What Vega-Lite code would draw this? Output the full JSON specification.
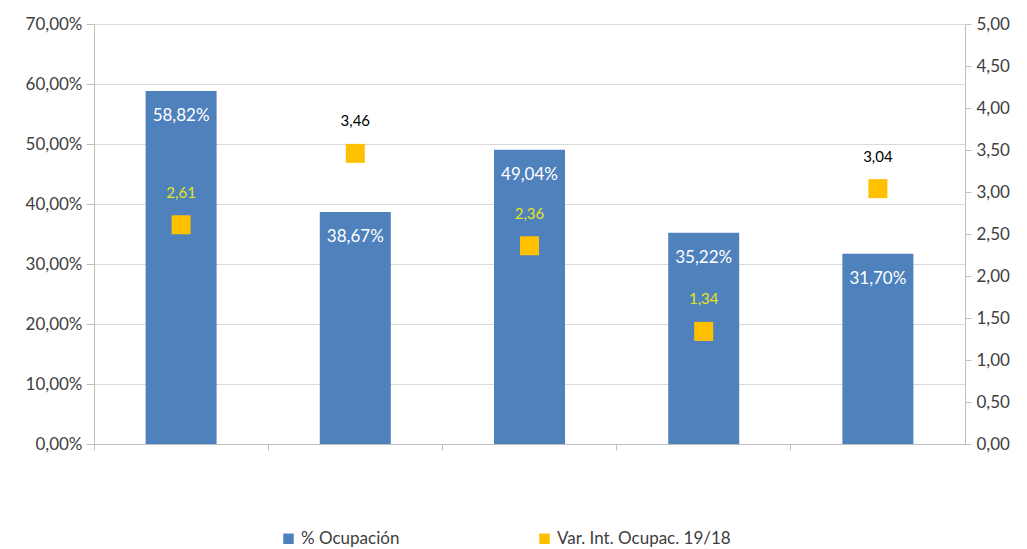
{
  "$schema": "https://vega.github.io/schema/vega-lite/v6.json",
  "width": 871,
  "height": 420,
  "autosize": {"type": "none"},
  "padding": {"left": 94, "top": 24, "right": 62, "bottom": 105},
  "config": {
    "font": "Lato",
    "view": {"stroke": null},
    "locale": {"number": {"decimal": ",", "thousands": ".", "grouping": [3], "currency": ["", " €"]}}
  },
  "data": {
    "values": [
      {"cat": "A", "ocup": 0.5882, "var": 2.61},
      {"cat": "B", "ocup": 0.3867, "var": 3.46},
      {"cat": "C", "ocup": 0.4904, "var": 2.36},
      {"cat": "D", "ocup": 0.3522, "var": 1.34},
      {"cat": "E", "ocup": 0.3170, "var": 3.04}
    ]
  },
  "layer": [
    {
      "layer": [
        {
          "mark": {"type": "bar", "width": 71, "color": "#4F81BD"},
          "encoding": {
            "x": {
              "field": "cat", "type": "nominal",
              "scale": {"paddingInner": 0, "paddingOuter": 0},
              "axis": {"labels": false, "title": null, "bandPosition": 0, "tickSize": 6, "domainColor": "#BFBFBF", "tickColor": "#BFBFBF", "grid": false}
            },
            "y": {
              "field": "ocup", "type": "quantitative",
              "scale": {"domain": [0, 0.7], "nice": false},
              "axis": {
                "values": [0, 0.1, 0.2, 0.3, 0.4, 0.5, 0.6, 0.7],
                "format": ".2%", "title": null, "grid": true, "gridColor": "#D9D9D9",
                "domainColor": "#BFBFBF", "tickColor": "#BFBFBF", "tickSize": 8,
                "labelFontSize": 17, "labelColor": "#404040", "labelPadding": 4
              }
            },
            "color": {
              "datum": "% Ocupación",
              "scale": {"domain": ["% Ocupación", "Var. Int. Ocupac. 19/18"], "range": ["#4F81BD", "#FFC000"]},
              "legend": {
                "title": null, "orient": "none", "legendX": 186, "legendY": 506,
                "direction": "horizontal", "symbolType": "square", "symbolSize": 110,
                "labelFontSize": 17, "labelColor": "#404040", "columnPadding": 136,
                "symbolStrokeWidth": 0, "labelLimit": 0
              }
            }
          }
        },
        {
          "mark": {"type": "text", "color": "white", "fontSize": 17, "dy": 25, "baseline": "middle"},
          "encoding": {
            "x": {"field": "cat", "type": "nominal"},
            "y": {"field": "ocup", "type": "quantitative"},
            "text": {"field": "ocup", "type": "quantitative", "format": ".2%"}
          }
        }
      ]
    },
    {
      "layer": [
        {
          "mark": {"type": "point", "shape": "square", "filled": true, "size": 361, "opacity": 1},
          "encoding": {
            "x": {"field": "cat", "type": "nominal"},
            "y": {
              "field": "var", "type": "quantitative",
              "scale": {"domain": [0, 5], "nice": false},
              "axis": {
                "orient": "right",
                "values": [0, 0.5, 1, 1.5, 2, 2.5, 3, 3.5, 4, 4.5, 5],
                "format": ".2f", "title": null, "grid": false,
                "domainColor": "#BFBFBF", "tickColor": "#BFBFBF", "tickSize": 6,
                "labelFontSize": 17, "labelColor": "#404040", "labelPadding": 5
              }
            },
            "color": {"datum": "Var. Int. Ocupac. 19/18"}
          }
        },
        {
          "mark": {"type": "text", "fontSize": 15, "dy": -32, "baseline": "middle"},
          "encoding": {
            "x": {"field": "cat", "type": "nominal"},
            "y": {"field": "var", "type": "quantitative"},
            "text": {"field": "var", "type": "quantitative", "format": ".2f"},
            "color": {
              "condition": {"test": "datum['var'] * 14 < datum.ocup * 100", "value": "#E6E61A"},
              "value": "#000000"
            }
          }
        }
      ]
    }
  ],
  "resolve": {"scale": {"y": "independent"}}
}
